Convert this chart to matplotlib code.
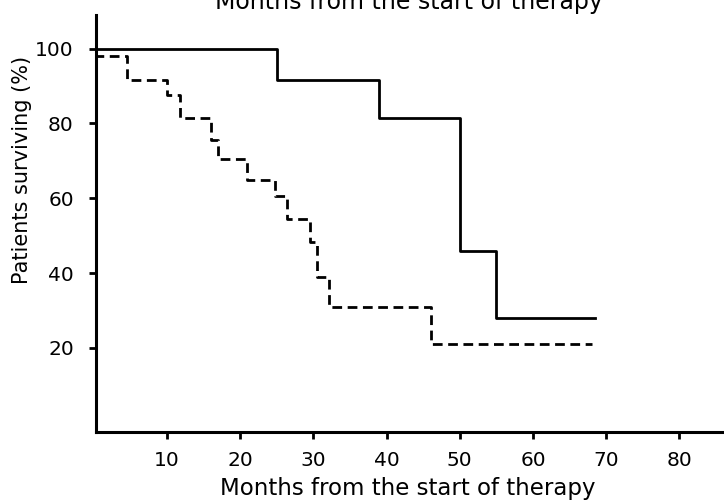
import matplotlib
matplotlib.use("Agg")
import matplotlib.pyplot as plt

# Data (Kaplan-Meier style step curves)
solid_months = [0, 25, 39, 50, 55, 68.5]
solid_surv = [100, 91.7, 81.5, 46, 28, 28]

dashed_months = [0, 4.5, 10, 11.8, 16, 17, 20.9, 24.8, 26.4, 29.6, 30.5, 32.2, 46.1, 68]
dashed_surv = [98, 91.5, 87.5, 81.5, 75.7, 70.6, 64.8, 60.5, 54.5, 48.4, 38.9, 30.9, 21, 21]

x_ticks = [10, 20, 30, 40, 50, 60, 70, 80]
y_ticks = [20, 40, 60, 80, 100]

title_text = "Months from the start of therapy"
x_label = "Months from the start of therapy"
y_label = "Patients surviving (%)"

plt.rcParams['font.family'] = ['DejaVu Sans']

fig = plt.figure(figsize=(7.24, 5.0), dpi=100)
ax = fig.add_axes([96/724, 1-432/500, 1-96/724, (432-15)/500])

ax.step(solid_months, solid_surv, where='post', color='black', lw=2.0)
ax.step(dashed_months, dashed_surv, where='post', color='black', lw=2.0,
        linestyle=(0, (3.5, 2)))

ax.set_xlim(0.3, 86.1)
ax.set_ylim(-2.5, 109)
ax.set_xticks(x_ticks)
ax.set_yticks(y_ticks)
ax.tick_params(axis='both', direction='out', length=5, width=2, labelsize=14.5)
ax.tick_params(axis='x', pad=9)
ax.tick_params(axis='y', pad=11)

for s in ['top', 'right']:
    ax.spines[s].set_visible(False)
for s in ['left', 'bottom']:
    ax.spines[s].set_linewidth(2.2)

fig.text(408/724, 1-495/500, x_label, ha='center', va='baseline', fontsize=16.5)
fig.text(22/724, 1-170/500, y_label, ha='center', va='center', rotation=90, fontsize=15)
fig.text(409/724, 1-9/500, title_text, ha='center', va='baseline', fontsize=17)

fig.savefig("out.png", dpi=100)
